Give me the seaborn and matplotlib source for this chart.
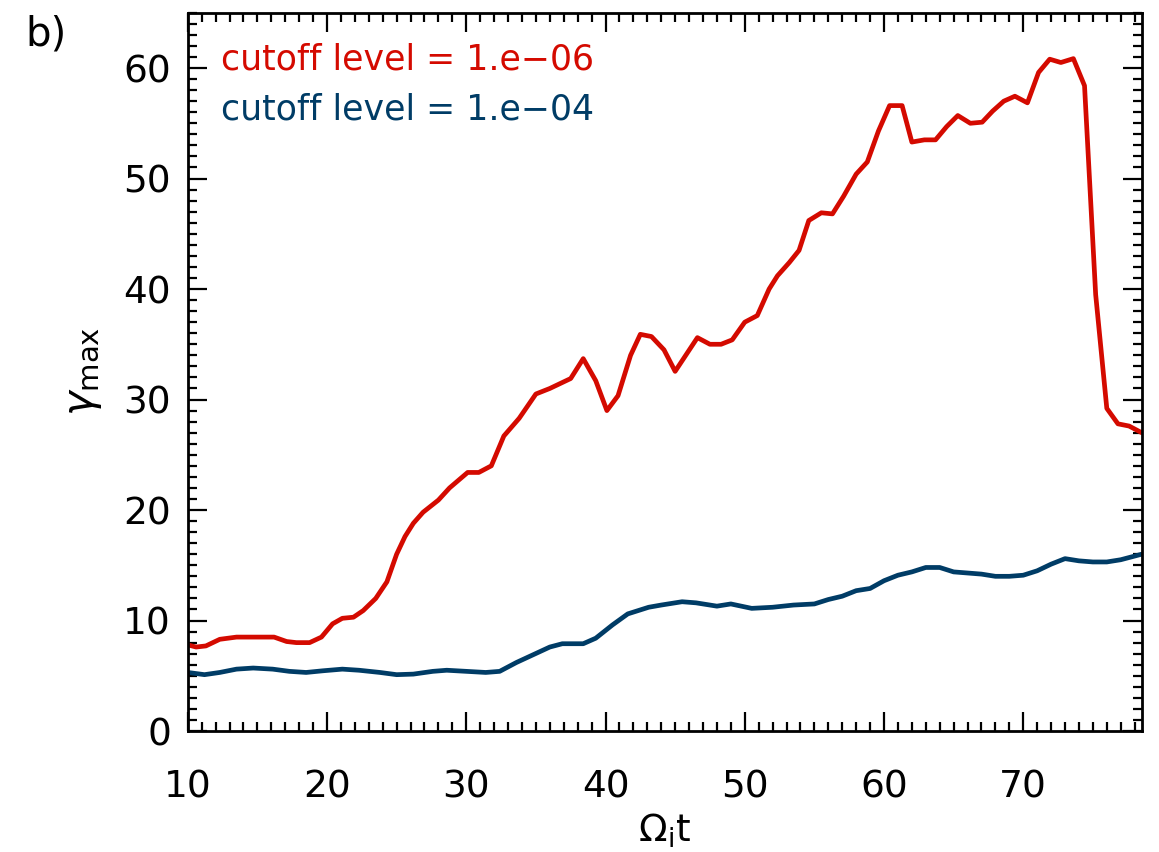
import numpy as np
import pandas as pd
import matplotlib
matplotlib.use("Agg")
import matplotlib.pyplot as plt
from matplotlib.ticker import MultipleLocator
import seaborn as sns

# red curve: cutoff level 1e-6
t_red = [10.0, 10.6, 11.3, 12.3, 13.5, 14.7, 16.2, 17.1, 17.8, 18.75, 19.6, 20.4,
         21.1, 21.9, 22.6, 23.5, 24.3, 25.0, 25.6, 26.2, 26.9, 28.0, 28.8, 30.1,
         30.9, 31.8, 32.7, 33.8, 35.0, 36.0, 37.5, 38.4, 39.3, 40.1, 40.9, 41.8,
         42.5, 43.3, 44.2, 45.0, 46.6, 47.5, 48.3, 49.1, 50.0, 50.9, 51.75, 52.35,
         53.2, 53.9, 54.6, 55.5, 56.3, 57.1, 58.0, 58.8, 59.6, 60.4, 61.3, 62.0,
         62.9, 63.7, 64.5, 65.3, 66.2, 67.05, 67.8, 68.6, 69.4, 70.3, 71.1, 71.9,
         72.7, 73.6, 74.4, 75.2, 76.0, 76.8, 77.6, 78.5]
g_red = [7.8, 7.6, 7.7, 8.3, 8.5, 8.5, 8.5, 8.1, 8.0, 8.0, 8.5, 9.7,
         10.2, 10.3, 10.9, 12.0, 13.5, 16.0, 17.6, 18.8, 19.8, 20.9, 22.0, 23.4,
         23.4, 24.0, 26.7, 28.3, 30.5, 31.0, 31.9, 33.7, 31.7, 29.0, 30.35, 34.0,
         35.9, 35.7, 34.5, 32.55, 35.6, 35.0, 35.0, 35.4, 37.0, 37.6, 40.0, 41.2,
         42.4, 43.5, 46.2, 46.9, 46.8, 48.4, 50.4, 51.5, 54.3, 56.6, 56.6, 53.3,
         53.5, 53.5, 54.7, 55.7, 55.0, 55.1, 56.1, 57.0, 57.45, 56.85, 59.6, 60.8,
         60.5, 60.85, 58.4, 39.5, 29.2, 27.8, 27.6, 27.0]

# blue curve: cutoff level 1e-4
t_blue = [10.0, 11.2, 12.3, 13.5, 14.7, 16.1, 17.3, 18.5, 19.7, 21.1, 22.3, 23.8,
          25.0, 26.2, 27.6, 28.6, 30.0, 31.4, 32.4, 33.6, 34.8, 36.0, 36.9, 38.4,
          39.3, 40.5, 41.6, 43.1, 44.0, 45.5, 46.5, 48.0, 49.0, 50.5, 52.0, 53.5,
          55.0, 56.0, 57.0, 58.0, 59.0, 60.0, 61.0, 62.0, 63.0, 64.0, 65.0, 66.0,
          67.0, 68.0, 69.0, 70.0, 71.0, 72.0, 73.0, 74.0, 75.0, 76.0, 77.0, 78.5]
g_blue = [5.3, 5.1, 5.3, 5.6, 5.7, 5.6, 5.4, 5.3, 5.45, 5.6, 5.5, 5.3,
          5.1, 5.15, 5.4, 5.5, 5.4, 5.3, 5.4, 6.2, 6.9, 7.6, 7.9, 7.9,
          8.4, 9.6, 10.6, 11.2, 11.4, 11.7, 11.6, 11.3, 11.5, 11.1, 11.2, 11.4,
          11.5, 11.9, 12.2, 12.7, 12.9, 13.6, 14.1, 14.4, 14.8, 14.8, 14.4, 14.3,
          14.2, 14.0, 14.0, 14.1, 14.5, 15.1, 15.6, 15.4, 15.3, 15.3, 15.5, 16.0]

labels = ["cutoff level = 1.e\u221206", "cutoff level = 1.e\u221204"]
colors = ["#d40a00", "#003c66"]

df = pd.concat([
    pd.DataFrame({"t": t_red, "g": g_red, "case": labels[0]}),
    pd.DataFrame({"t": t_blue, "g": g_blue, "case": labels[1]}),
])

sns.set_style("ticks")
plt.rcParams["font.family"] = ["DejaVu Sans"]
plt.rcParams["mathtext.fontset"] = "dejavusans"
plt.rcParams["text.color"] = "black"
plt.rcParams["axes.labelcolor"] = "black"

fig = plt.figure(figsize=(11.59, 8.52), dpi=100)
ax = fig.add_axes([0.162, 0.142, 0.823, 0.843])

sns.lineplot(data=df, x="t", y="g", hue="case", palette=colors,
             linewidth=3.4, legend=False, ax=ax, sort=False)

ax.set_xlim(10, 78.5)
ax.set_ylim(0, 65)
ax.xaxis.set_major_locator(MultipleLocator(10))
ax.xaxis.set_minor_locator(MultipleLocator(1))
ax.yaxis.set_major_locator(MultipleLocator(10))
ax.yaxis.set_minor_locator(MultipleLocator(1))
ax.tick_params(which="both", direction="in", top=True, right=True,
               width=1.6, colors="black")
ax.tick_params(which="major", length=14, labelsize=27)
ax.tick_params(which="minor", length=6.5)
ax.tick_params(axis="x", which="major", pad=28)
ax.tick_params(axis="y", which="major", pad=12)
for s in ax.spines.values():
    s.set_linewidth(2)
    s.set_color("black")

ax.set_xlabel(r"$\Omega_{\rm i}$t", fontsize=27, labelpad=4)
ax.set_ylabel(r"$\gamma_{\rm max}$", fontsize=30, labelpad=14)

ax.text(0.035, 0.935, labels[0], color=colors[0], fontsize=25,
        transform=ax.transAxes, va="center")
ax.text(0.035, 0.865, labels[1], color=colors[1], fontsize=25,
        transform=ax.transAxes, va="center")
fig.text(0.022, 0.96, "b)", fontsize=29, va="center", color="black")

fig.savefig("out.png", dpi=100)
